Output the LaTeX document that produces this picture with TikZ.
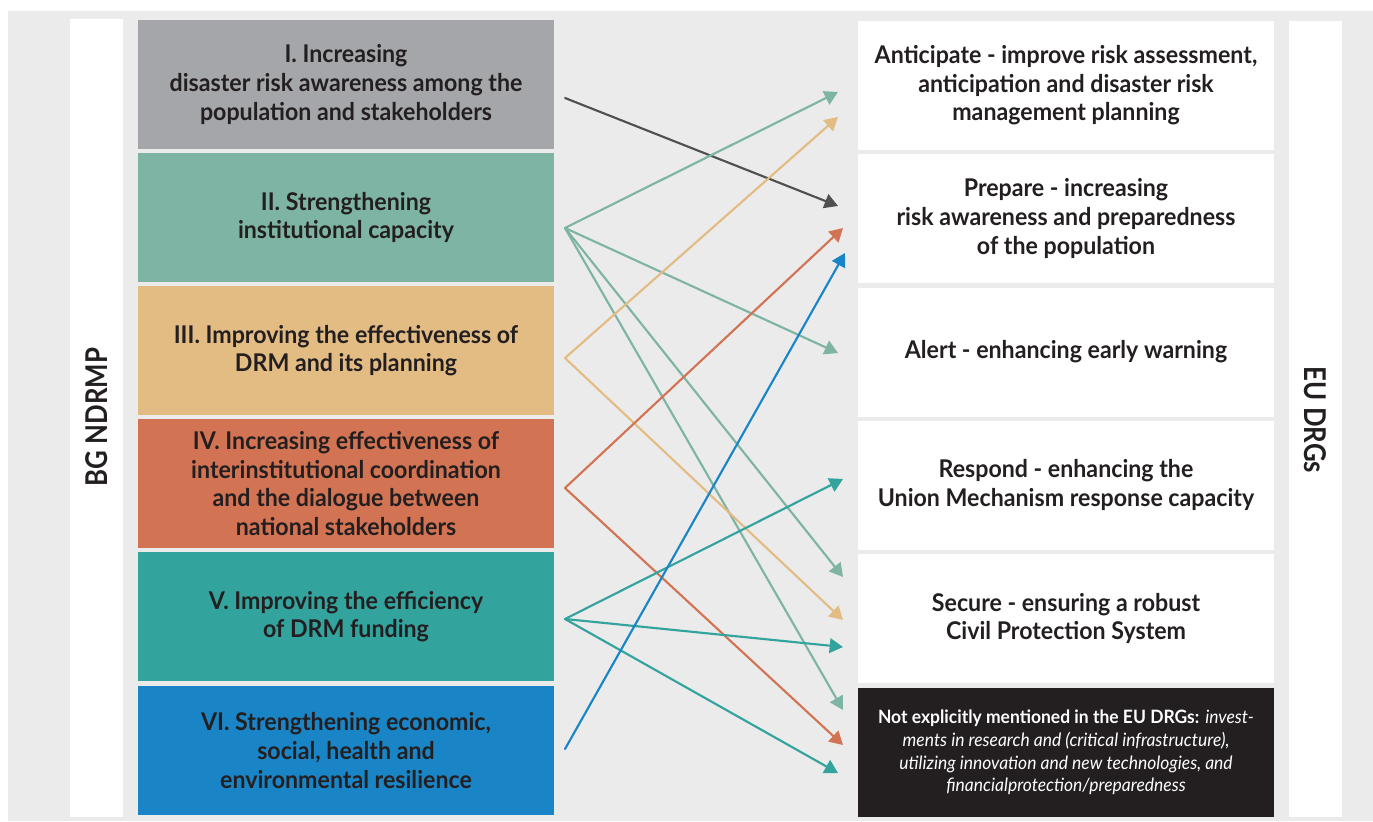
\documentclass[tikz,border=0pt]{standalone}
\usepackage{fontspec}
\setmainfont[FakeStretch=0.95]{Lato}
\newfontfamily\sidefamily[FakeStretch=0.86]{Lato}
\usetikzlibrary{arrows.meta}
\definecolor{bgpanel}{HTML}{EBEBEB}
\definecolor{txtdark}{HTML}{231F20}
\definecolor{boxgray}{HTML}{A5A6AA}
\definecolor{boxgreen}{HTML}{7EB4A3}
\definecolor{boxyellow}{HTML}{E3BC84}
\definecolor{boxorange}{HTML}{D27454}
\definecolor{boxteal}{HTML}{33A39E}
\definecolor{boxblue}{HTML}{1A85C6}
\definecolor{linedark}{HTML}{505050}
\newcommand{\boxfont}{\fontsize{18.3}{21.4}\selectfont\bfseries}
\newcommand{\notefont}{\fontsize{13.8}{16.9}\selectfont}
\newcommand{\sidefont}{\sidefamily\fontsize{22.5}{26}\selectfont\bfseries}

\begin{document}
\begin{tikzpicture}[line cap=round,line join=round,>={Triangle[length=10pt,width=11pt]},x=0.75pt,y=-0.75pt,
	goalbox/.style={minimum width=312pt,minimum height=96.75pt,inner sep=0pt,align=center,text=txtdark,font=\boxfont},
	drgbox/.style={goalbox,fill=white},
	link/.style={line width=1.6pt}]
	\useasboundingbox (0,0) rectangle (1373,821);
	\fill[bgpanel] (8,11) rectangle (1373,821);
	\fill[white] (70,19) rectangle (123,817);
	\fill[white] (1289,21) rectangle (1342,817);
	\node[rotate=90,text=txtdark,font=\sidefont] (bg) at (96.5,417) {BG NDRMP};
	\node[rotate=-90,text=txtdark,font=\sidefont] (eu) at (1315.5,420) {EU DRGs};
	% BG NDRMP objectives
	\node[goalbox,fill=boxgray] (g1) at (346,84.5) {I. Increasing\\disaster risk awareness among the\\population and stakeholders};
	\node[goalbox,fill=boxgreen] (g2) at (346,217.5) {II. Strengthening\\institutional capacity};
	\node[goalbox,fill=boxyellow] (g3) at (346,350.5) {III. Improving the effectiveness of\\DRM and its planning};
	\node[goalbox,fill=boxorange] (g4) at (346,483.5) {IV. Increasing effectiveness of\\interinstitutional coordination\\and the dialogue between\\national stakeholders};
	\node[goalbox,fill=boxteal] (g5) at (346,616.5) {V. Improving the efficiency\\of DRM funding};
	\node[goalbox,fill=boxblue] (g6) at (346,750.5) {VI. Strengthening economic,\\social, health and\\environmental resilience};
	% EU DRGs
	\node[drgbox] (d1) at (1066,85.5) {Anticipate - improve risk assessment,\\anticipation and disaster risk\\management planning};
	\node[drgbox] (d2) at (1066,218.5) {Prepare - increasing\\risk awareness and preparedness\\of the population};
	\node[drgbox] (d3) at (1066,352) {Alert - enhancing early warning};
	\node[drgbox] (d4) at (1066,485) {Respond - enhancing the\\Union Mechanism response capacity};
	\node[drgbox] (d5) at (1066,618.5) {Secure - ensuring a robust\\Civil Protection System};
	\node[goalbox,fill=txtdark,text=white,font=\notefont] (d6) at (1066,752.5) {\textbf{Not explicitly mentioned in the EU DRGs:} \textit{invest-}\\\textit{ments in research and (critical infrastructure),}\\\textit{utilizing innovation and new technologies, and}\\\textit{financialprotection/preparedness}};
	% start and end points
	\coordinate (o1) at (565,98);
	\coordinate (o2) at (565,228);
	\coordinate (o3) at (565,358);
	\coordinate (o4) at (565,488);
	\coordinate (o5) at (565,619);
	\coordinate (o6) at (565,749);
	\coordinate (a1) at (838,92);
	\coordinate (a2) at (838,117);
	\coordinate (p1) at (838,206);
	\coordinate (p2) at (843,228);
	\coordinate (p3) at (845,253);
	\coordinate (w1) at (838,353);
	\coordinate (r1) at (843,479);
	\coordinate (s1) at (843,577);
	\coordinate (s2) at (843,620);
	\coordinate (s3) at (843,647);
	\coordinate (n1) at (843,710);
	\coordinate (n2) at (843,745);
	\coordinate (n3) at (838,773);
	% links
	\draw [->,link,color=linedark] (o1) -- (p1);
	\draw [->,link,color=boxgreen] (o2) -- (a1);
	\draw [->,link,color=boxgreen] (o2) -- (w1);
	\draw [->,link,color=boxgreen] (o2) -- (s1);
	\draw [->,link,color=boxgreen] (o2) -- (n1);
	\draw [->,link,color=boxyellow] (o3) -- (a2);
	\draw [->,link,color=boxyellow] (o3) -- (s2);
	\draw [->,link,color=boxorange] (o4) -- (p2);
	\draw [->,link,color=boxorange] (o4) -- (n2);
	\draw [->,link,color=boxteal] (o5) -- (r1);
	\draw [->,link,color=boxteal] (o5) -- (s3);
	\draw [->,link,color=boxteal] (o5) -- (n3);
	\draw [->,link,color=boxblue] (o6) -- (p3);
\end{tikzpicture}
\end{document}
